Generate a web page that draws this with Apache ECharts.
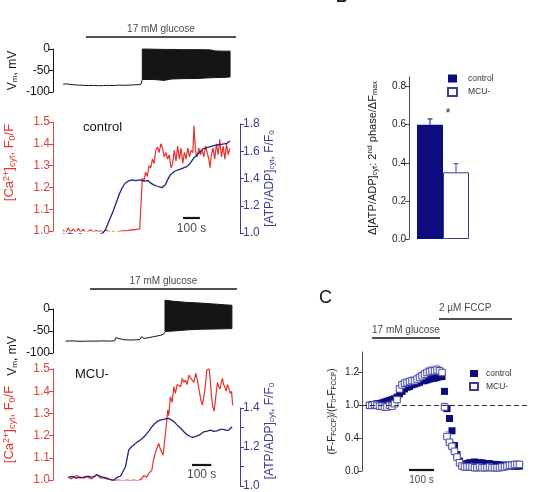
<!DOCTYPE html>
<html>
<head>
<meta charset="utf-8">
<script src="https://cdn.jsdelivr.net/npm/echarts@6/dist/echarts.min.js"></script>
<style>
  html, body { margin: 0; padding: 0; background: #fff; }
  #chart { width: 533px; height: 492px; }
</style>
</head>
<body>
<div id="chart"></div>
<script>
// ---------- data (time in s) ----------
// A, control cell: membrane potential, resting part and the burst envelope (mV)
const ctrlVmRest = [[0,-82],[20,-81],[40,-82.5],[60,-83],[90,-84],[120,-84.5],[150,-85],[180,-84.5],[210,-85.5],[240,-85],[270,-84.5],[300,-85],[330,-84],[360,-84.5],[390,-84],[420,-83.5],[450,-83],[462,-82],[468,-74],[470,-71]];
const ctrlBurstT   = [470, 540, 600, 640, 700, 800, 870, 905, 950, 991];
const ctrlBurstTop = [0, -0.5, -1, -1, -1.5, -1.5, -2, -4.5, -5, -5];
const ctrlBurstLow = [-71, -71, -73, -70, -69, -68.5, -67, -66.5, -66, -65];

// A, control: [Ca2+]cyt (F0/F) and [ATP/ADP]cyt (F/F0)
const ctrlCa = [[0,1.005],[15,0.99],[30,1.015],[45,0.995],[60,1.01],[75,0.992],[90,1.012],[105,0.995],[120,1.008],[135,0.99],[150,1.0],[165,1.005],[180,0.995],[195,1.002],[210,0.998],[225,1.0],[240,0.995],[255,1.005],[270,0.998],[285,0.992],[300,1.0],[310,0.978],[320,0.995],[335,0.998],[350,1.0],[365,1.002],[380,1.0],[395,1.004],[410,1.006],[425,1.005],[440,1.008],[455,1.01],[465,1.012],[470,1.243],[480,1.23],[490,1.27],[500,1.25],[510,1.3],[520,1.29],[530,1.33],[540,1.31],[550,1.37],[560,1.385],[570,1.36],[580,1.40],[590,1.38],[600,1.34],[610,1.36],[620,1.33],[630,1.35],[640,1.29],[650,1.31],[660,1.37],[670,1.32],[680,1.39],[690,1.33],[700,1.38],[710,1.31],[720,1.36],[730,1.33],[740,1.38],[750,1.34],[760,1.37],[770,1.36],[777,1.483],[785,1.37],[795,1.34],[805,1.38],[815,1.35],[825,1.37],[835,1.34],[845,1.39],[855,1.36],[865,1.33],[872,1.29],[880,1.35],[890,1.38],[900,1.33],[910,1.40],[920,1.35],[930,1.42],[940,1.34],[950,1.39],[960,1.33],[970,1.40],[980,1.35],[990,1.38]];
const ctrlAtp = [[0,0.995],[20,0.985],[40,1.0],[60,0.99],[80,0.98],[100,0.995],[120,0.985],[140,0.99],[160,0.975],[180,0.985],[200,0.975],[220,0.99],[239,1.003],[255,1.035],[280,1.11],[300,1.17],[319,1.235],[335,1.29],[350,1.33],[368,1.365],[385,1.38],[408,1.39],[430,1.385],[455,1.39],[480,1.38],[505,1.385],[516,1.37],[535,1.355],[556,1.345],[586,1.333],[605,1.35],[620,1.39],[635,1.425],[650,1.44],[665,1.455],[700,1.47],[734,1.487],[753,1.51],[775,1.55],[793,1.57],[815,1.6],[833,1.62],[863,1.63],[890,1.64],[912,1.646],[940,1.65],[971,1.658],[991,1.675]];

// A, MCU- cell
const mcuVmRest = [[-5,-73],[30,-72.5],[70,-73.5],[110,-73],[150,-73],[190,-72.5],[230,-73],[250,-72],[256,-65.5],[264,-69],[300,-70],[340,-70.5],[380,-69.5],[390,-63],[402,-66.7],[416,-66],[451,-63],[485,-60],[503,-57.5],[511,-52]];
const mcuBurstT   = [511, 555, 624, 693, 762, 820, 858];
const mcuBurstTop = [20, 17.5, 15, 13.5, 11.5, 9.5, 8.5];
const mcuBurstLow = [-51, -50, -47.5, -46, -45.5, -45, -44.5];
const mcuCa = [[9,1.012],[25,1.005],[40,1.015],[55,1.02],[70,1.008],[85,1.012],[100,1.018],[115,1.01],[130,1.005],[145,1.015],[157,1.024],[175,1.01],[195,1.008],[210,1.005],[230,1.0],[250,0.998],[270,1.0],[290,0.995],[310,1.0],[330,0.997],[350,1.0],[370,0.996],[390,1.005],[401,1.02],[415,1.012],[427,1.03],[435,1.025],[443,1.045],[451,1.09],[460,1.12],[469,1.143],[478,1.165],[487,1.14],[501,1.112],[510,1.115],[517,1.24],[525,1.315],[530,1.29],[539,1.375],[548,1.35],[557,1.42],[565,1.39],[574,1.43],[583,1.435],[592,1.42],[600,1.458],[608,1.44],[617,1.45],[626,1.43],[635,1.473],[643,1.46],[652,1.455],[661,1.44],[670,1.48],[679,1.45],[688,1.405],[697,1.36],[705,1.338],[717,1.40],[728,1.495],[740,1.503],[746,1.45],[752,1.375],[759,1.33],[766,1.31],[775,1.38],[783,1.44],[790,1.42],[797,1.41],[803,1.44],[809,1.458],[815,1.43],[821,1.42],[828,1.40],[835,1.43],[842,1.415],[849,1.39],[856,1.40],[862,1.337]];
const mcuAtp = [[9,1.045],[30,1.048],[50,1.04],[70,1.045],[90,1.042],[110,1.05],[130,1.045],[145,1.05],[157,1.058],[172,1.05],[190,1.045],[210,1.04],[230,1.032],[245,1.03],[263,1.045],[280,1.05],[289,1.056],[306,1.099],[323,1.185],[336,1.2],[349,1.21],[366,1.225],[383,1.236],[400,1.25],[418,1.27],[430,1.285],[443,1.304],[456,1.318],[469,1.33],[486,1.338],[504,1.342],[517,1.345],[530,1.347],[543,1.34],[557,1.33],[575,1.312],[592,1.296],[609,1.278],[626,1.262],[640,1.255],[652,1.25],[665,1.252],[678,1.257],[695,1.265],[712,1.278],[730,1.282],[747,1.287],[764,1.28],[781,1.283],[798,1.29],[816,1.29],[830,1.285],[842,1.287],[852,1.29],[859,1.304]];

// B
const bCategories = ['control', 'MCU-'];
const bValues = [0.6, 0.35];
const bErr = [0.03, 0.045];
const bTicks = [0, 0.2, 0.4, 0.6, 0.8];

// C
const cTime = [30,40,50,60,70,80,90,100,110,120,130,140,150,160,170,180,190,200,210,220,230,240,250,260,270,280,290,300,310,320,330,340,350,360,370,380,390,400,410,420,430,440,450,460,470,480,490,500,510,520,530,540,550,560,570,580,590,600,610,620,630];
const cControl = [
  0.80,0.81,0.81,0.82,0.82,0.83,0.84,0.85,0.86,0.87,
  0.88,0.90,0.94,0.97,1.00,1.02,1.03,1.05,1.06,1.07,
  1.08,1.10,1.10,1.11,1.12,1.13,1.13,1.14,1.15,1.15,
  0.97,0.76,0.64,0.49,0.31,0.20,0.12,0.08,0.08,0.09,
  0.10,0.10,0.11,0.10,0.10,0.10,0.09,0.09,0.09,0.08,
  0.08,0.08,0.07,0.07,0.07,0.07,0.07,0.06,0.06,0.06,
  0.06];
const cMcu = [
  0.80,0.80,0.81,0.80,0.79,0.79,0.78,0.78,0.80,0.79,
  0.82,0.87,1.00,1.05,1.07,1.08,1.09,1.10,1.10,1.12,
  1.14,1.16,1.18,1.20,1.21,1.22,1.22,1.23,1.22,1.20,
  0.78,0.42,0.35,0.30,0.24,0.17,0.10,0.06,0.05,0.05,
  0.05,0.05,0.04,0.04,0.05,0.04,0.04,0.04,0.05,0.04,
  0.04,0.04,0.04,0.05,0.05,0.06,0.07,0.07,0.08,0.08,
  0.08];
const cMcuErr = [
  0.02,0.02,0.02,0.02,0.02,0.02,0.02,0.02,0.02,0.02,
  0.02,0.03,0.04,0.04,0.04,0.04,0.04,0.05,0.05,0.05,
  0.05,0.05,0.05,0.06,0.06,0.06,0.06,0.06,0.06,0.05,
  0.05,0.06,0.07,0.06,0.05,0.04,0.03,0.02,0.02,0.02,
  0.02,0.02,0.02,0.02,0.02,0.02,0.02,0.02,0.02,0.02,
  0.02,0.02,0.02,0.02,0.02,0.02,0.02,0.02,0.02,0.02,
  0.02];
const cTickValues = [0, 0.4, 0.8, 1.2];
const cTickLabels = ['0.0', '0.4', '1.0', '1.2'];
const cBaseline = 0.8;

// ---------- styling ----------
const FONT = '"Liberation Sans", Arial, Helvetica, sans-serif';
const INK = '#151515';
const RED = '#e3312c', RED_AX = '#d9463f';
const NAVY = '#24247c', NAVY_AX = '#3d3d8e', BAR_NAVY = '#0c0c7e';
const AX = '#4a4a4a';

const grids = [], xAxes = [], yAxes = [], series = [];

function merge(a, b) {
  for (const k in b) {
    if (b[k] && typeof b[k] === 'object' && !Array.isArray(b[k]) && a[k] && typeof a[k] === 'object') merge(a[k], b[k]);
    else a[k] = b[k];
  }
  return a;
}

function addGrid(box, xr) {
  const i = grids.length;
  grids.push(Object.assign({ outerBoundsMode: 'none', containLabel: false, show: false }, box));
  xAxes.push({ type: 'value', gridIndex: i, min: xr[0], max: xr[1], show: false });
  yAxes.push({ type: 'value', gridIndex: i, show: false, min: 0, max: 1 });
  return i;
}

function shownY(color, fontSize, extra) {
  return merge({
    show: true,
    axisLine: { show: true, onZero: false, lineStyle: { color: color, width: 1 } },
    axisTick: { show: true, inside: false, length: 4, lineStyle: { color: color, width: 1 } },
    axisLabel: { show: true, color: color, fontSize: fontSize, fontFamily: FONT, margin: 3 },
    splitLine: { show: false },
    nameLocation: 'middle'
  }, extra);
}

function rich(color, size, sub) {
  return {
    a: { fontSize: size, fontFamily: FONT, color: color },
    s: { fontSize: sub, fontFamily: FONT, color: color, padding: [Math.round(size * 0.45), 0, 0, 0] },
    p: { fontSize: sub, fontFamily: FONT, color: color, padding: [0, 0, Math.round(size * 0.45), 0] }
  };
}

function line(g, data, color, width, extra) {
  series.push(merge({
    type: 'line', xAxisIndex: g, yAxisIndex: g, data: data, symbol: 'none',
    lineStyle: { color: color, width: width }, silent: true, animation: false
  }, extra || {}));
}

// horizontal bar with a text (stimulus bars, scale bars)
function annot(left, width, xr, y, t0, t1, text, o) {
  const g = addGrid({ left: left, width: width, top: y - 10, height: 10 }, xr);
  line(g, [[t0, 0], [t1, 0]], INK, o.w, { clip: false });
  series.push({
    type: 'scatter', xAxisIndex: g, yAxisIndex: g, symbolSize: 0, silent: true, clip: false,
    data: [[o.align === 'left' ? t0 : (t0 + t1) / 2, 0]],
    label: { show: true, formatter: text, position: o.pos, distance: o.dist, align: o.align || 'center',
             fontSize: o.fs, fontFamily: FONT, color: INK }
  });
}

// spike train drawn as its envelope (top/bottom of the spikes)
function burst(g, ts, top, low) {
  series.push({
    type: 'custom', xAxisIndex: g, yAxisIndex: g, silent: true, animation: false, clip: false,
    data: ts.map((t, i) => [t, top[i], low[i]]),
    encode: { x: 0, y: [1, 2] },
    renderItem: (params, api) => {
      if (params.dataIndex !== 0) return null;
      const up = ts.map((t, i) => api.coord([t, top[i]]));
      const dn = ts.map((t, i) => api.coord([t, low[i]])).reverse();
      return { type: 'polygon', shape: { points: up.concat(dn) }, style: { fill: INK, stroke: INK, lineWidth: 1 } };
    }
  });
}

const A_LEFT = 53, A_W = 187;
const ctrlX = [-60, 1050], mcuX = [-70, 900];
const fmt1 = v => v.toFixed(1);

// ----- A: control -----
let g = addGrid({ left: A_LEFT, width: A_W, top: 49, height: 43 }, ctrlX);
yAxes[g] = merge(yAxes[g], shownY(INK, 12, {
  min: -100, max: 0, interval: 50,
  name: '{a|V}{s|m}{a|, mV}', nameGap: 34, nameTextStyle: { rich: rich(INK, 12, 8) }
}));
line(g, ctrlVmRest, INK, 1);
burst(g, ctrlBurstT, ctrlBurstTop, ctrlBurstLow);
annot(A_LEFT, A_W, ctrlX, 37, 136, 1026, '17 mM glucose', { w: 1.6, pos: 'top', dist: 3, fs: 10 });

g = addGrid({ left: A_LEFT, width: A_W, top: 122, height: 109 }, ctrlX);
yAxes[g] = merge(yAxes[g], shownY(RED_AX, 12, {
  min: 1.0, max: 1.5, interval: 0.1, axisLabel: { formatter: fmt1 },
  name: '{a|[Ca}{p|2+}{a|]}{s|cyt}{a|, F}{s|0}{a|/F}', nameGap: 36,
  nameTextStyle: { rich: rich(RED, 13, 9), padding: [0, 0, 0, 28] }
}));
line(g, ctrlCa, RED, 1.2);
g = addGrid({ left: A_LEFT, width: A_W, top: 124, height: 109 }, ctrlX);
yAxes[g] = merge(yAxes[g], shownY(NAVY_AX, 12, {
  position: 'right', min: 1.0, max: 1.8, interval: 0.2, axisLabel: { formatter: fmt1 },
  name: '{a|[ATP/ADP]}{s|cyt}{a|, F/F}{s|0}', nameGap: 22,
  nameTextStyle: { rich: rich(NAVY_AX, 12, 8) }
}));
line(g, ctrlAtp, NAVY, 1.3);
annot(A_LEFT, A_W, ctrlX, 218, 712, 812, '100 s', { w: 2.2, pos: 'bottom', dist: 5, fs: 12 });

// ----- A: MCU- -----
g = addGrid({ left: A_LEFT, width: A_W, top: 309, height: 44 }, mcuX);
yAxes[g] = merge(yAxes[g], shownY(INK, 12, {
  min: -100, max: 0, interval: 50,
  name: '{a|V}{s|m}{a|, mV}', nameGap: 34, nameTextStyle: { rich: rich(INK, 12, 8), padding: [0, 50, 0, 0] }
}));
line(g, mcuVmRest, INK, 1, { clip: false });
burst(g, mcuBurstT, mcuBurstTop, mcuBurstLow);
annot(A_LEFT, A_W, mcuX, 289, 122, 884, '17 mM glucose', { w: 1.6, pos: 'top', dist: 3, fs: 10 });

g = addGrid({ left: A_LEFT, width: A_W, top: 369, height: 111 }, mcuX);
yAxes[g] = merge(yAxes[g], shownY(RED_AX, 12, {
  min: 1.0, max: 1.5, interval: 0.1, axisLabel: { formatter: fmt1 },
  name: '{a|[Ca}{p|2+}{a|]}{s|cyt}{a|, F}{s|0}{a|/F}', nameGap: 36,
  nameTextStyle: { rich: rich(RED, 13, 9) }
}));
line(g, mcuCa, RED, 1.2);
g = addGrid({ left: A_LEFT, width: A_W, top: 408, height: 78 }, mcuX);
yAxes[g] = merge(yAxes[g], shownY(NAVY_AX, 12, {
  position: 'right', min: 1.0, max: 1.4,
  axisTick: { customValues: [1.0, 1.1, 1.2, 1.3, 1.4] },
  axisLabel: { customValues: [1.0, 1.2, 1.4], formatter: fmt1 },
  name: '{a|[ATP/ADP]}{s|cyt}{a|, F/F}{s|0}', nameGap: 22,
  nameTextStyle: { rich: rich(NAVY_AX, 12, 8), padding: [0, 0, 0, 32] }
}));
line(g, mcuAtp, NAVY, 1.3);
annot(A_LEFT, A_W, mcuX, 465, 651, 751, '100 s', { w: 2.2, pos: 'bottom', dist: 4, fs: 12 });

// ----- B -----
const gB = addGrid({ left: 417, width: 52, top: 77, height: 162 }, [0, 1]);
xAxes[gB] = { type: 'category', gridIndex: gB, data: bCategories, show: false };
yAxes[gB] = merge(yAxes[gB], shownY(AX, 10, {
  min: 0, max: 0.85, offset: 8,
  axisTick: { customValues: bTicks },
  axisLabel: { customValues: bTicks, formatter: fmt1, color: '#222' },
  name: '{a|Δ[ATP/ADP]}{s|cyt}{a|: 2}{p|nd}{a| phase/ΔF}{s|max}', nameGap: 30,
  nameTextStyle: { rich: rich('#222', 11, 7.5) }
}));
series.push({ name: bCategories[0], type: 'bar', xAxisIndex: gB, yAxisIndex: gB, stack: 'b', barWidth: '100%',
  data: [bValues[0], '-'], itemStyle: { color: BAR_NAVY }, animation: false });
series.push({ name: bCategories[1], type: 'bar', xAxisIndex: gB, yAxisIndex: gB, stack: 'b', barWidth: '100%',
  data: ['-', bValues[1]], itemStyle: { color: '#fff', borderColor: NAVY_AX, borderWidth: 1 }, animation: false });
series.push({
  type: 'custom', xAxisIndex: gB, yAxisIndex: gB, silent: true, z: 3, animation: false,
  data: bValues.map((v, i) => [i, v, bErr[i]]),
  renderItem: (params, api) => {
    const p0 = api.coord([api.value(0), api.value(1)]);
    const p1 = api.coord([api.value(0), api.value(1) + api.value(2)]);
    const st = { stroke: params.dataIndex === 0 ? BAR_NAVY : NAVY_AX, lineWidth: 1 };
    return { type: 'group', children: [
      { type: 'line', shape: { x1: p0[0], y1: p0[1], x2: p1[0], y2: p1[1] }, style: st },
      { type: 'line', shape: { x1: p1[0] - 2.5, y1: p1[1], x2: p1[0] + 2.5, y2: p1[1] }, style: st }
    ] };
  }
});

// ----- C -----
const C_LEFT = 362, C_W = 166, cX = [0, 664];
const gC = addGrid({ left: C_LEFT, width: C_W, top: 352, height: 119 }, cX);
yAxes[gC] = merge(yAxes[gC], shownY(AX, 10, {
  min: 0, max: 1.45,
  axisTick: { customValues: cTickValues },
  axisLabel: { customValues: cTickValues, color: '#222',
    formatter: v => cTickLabels[cTickValues.findIndex(c => Math.abs(c - v) < 1e-6)] },
  name: '{a|(F-F}{s|FCCP}{a|)/(F}{s|0}{a|-F}{s|FCCP}{a|)}', nameGap: 24,
  nameTextStyle: { rich: rich('#222', 10, 6.5) }
}));
series.push({
  type: 'custom', xAxisIndex: gC, yAxisIndex: gC, silent: true, animation: false,
  data: cTime.map((t, i) => [t, cMcu[i], cMcuErr[i]]),
  renderItem: (params, api) => {
    const p0 = api.coord([api.value(0), api.value(1) - api.value(2)]);
    const p1 = api.coord([api.value(0), api.value(1) + api.value(2)]);
    const st = { stroke: '#b4b4e2', lineWidth: 1 };
    return { type: 'group', children: [
      { type: 'line', shape: { x1: p0[0], y1: p0[1], x2: p1[0], y2: p1[1] }, style: st },
      { type: 'line', shape: { x1: p1[0] - 2, y1: p1[1], x2: p1[0] + 2, y2: p1[1] }, style: st },
      { type: 'line', shape: { x1: p0[0] - 2, y1: p0[1], x2: p0[0] + 2, y2: p0[1] }, style: st }
    ] };
  }
});
series.push({
  name: bCategories[0], type: 'scatter', xAxisIndex: gC, yAxisIndex: gC, symbol: 'rect', symbolSize: 7,
  data: cTime.map((t, i) => [t, cControl[i]]), itemStyle: { color: BAR_NAVY, opacity: 1 }, animation: false,
  markLine: { silent: true, symbol: 'none', label: { show: false },
    lineStyle: { type: [5, 3], color: '#333', width: 1.2 }, data: [{ yAxis: cBaseline }] }
});
series.push({
  name: bCategories[1], type: 'scatter', xAxisIndex: gC, yAxisIndex: gC, symbol: 'rect', symbolSize: 6.5,
  data: cTime.map((t, i) => [t, cMcu[i]]),
  itemStyle: { color: '#fff', borderColor: '#4646a6', borderWidth: 1, opacity: 1 }, animation: false
});
annot(C_LEFT, C_W, cX, 338, 40, 312, '17 mM glucose', { w: 1.6, pos: 'top', dist: 3, fs: 10, align: 'left' });
annot(C_LEFT, C_W, cX, 319, 308, 600, '2 µM FCCP', { w: 1.6, pos: 'top', dist: 6, fs: 10, align: 'left' });
annot(C_LEFT, C_W, cX, 470, 188, 288, '100 s', { w: 2.2, pos: 'bottom', dist: 5, fs: 10 });

const legendBase = {
  orient: 'vertical', icon: 'rect', padding: 0, selectedMode: false, data: bCategories
};

const chart = echarts.init(document.getElementById('chart'));
chart.setOption({
  animation: false,
  backgroundColor: '#fff',
  grid: grids,
  xAxis: xAxes,
  yAxis: yAxes,
  series: series,
  legend: [
    Object.assign({}, legendBase, { left: 447, top: 74, itemWidth: 9, itemHeight: 8, itemGap: 4,
      textStyle: { fontSize: 8.5, color: '#333', fontFamily: FONT, padding: [0, 0, 0, 6] } }),
    Object.assign({}, legendBase, { left: 469, top: 369, itemWidth: 8, itemHeight: 7, itemGap: 4,
      textStyle: { fontSize: 8.5, color: '#333', fontFamily: FONT, padding: [0, 0, 0, 3] } })
  ],
  graphic: [
    { type: 'text', x: 83, y: 127, style: { text: 'control', fontSize: 13, fontFamily: FONT, fill: INK, verticalAlign: 'middle' } },
    { type: 'text', x: 75, y: 374, style: { text: 'MCU-', fontSize: 13, fontFamily: FONT, fill: INK, verticalAlign: 'middle' } },
    { type: 'text', x: 448, y: 114, style: { text: '*', fontSize: 12, fontFamily: FONT, fill: INK, align: 'center', verticalAlign: 'middle' } },
    { type: 'text', x: 319, y: 289, style: { text: 'C', fontSize: 18, fontFamily: FONT, fill: INK, verticalAlign: 'top' } },
    { type: 'text', x: 336, y: -10, style: { text: 'B', fontSize: 16, fontWeight: 'bold', fontFamily: FONT, fill: INK, verticalAlign: 'top' } }
  ]
});
</script>
</body>
</html>
